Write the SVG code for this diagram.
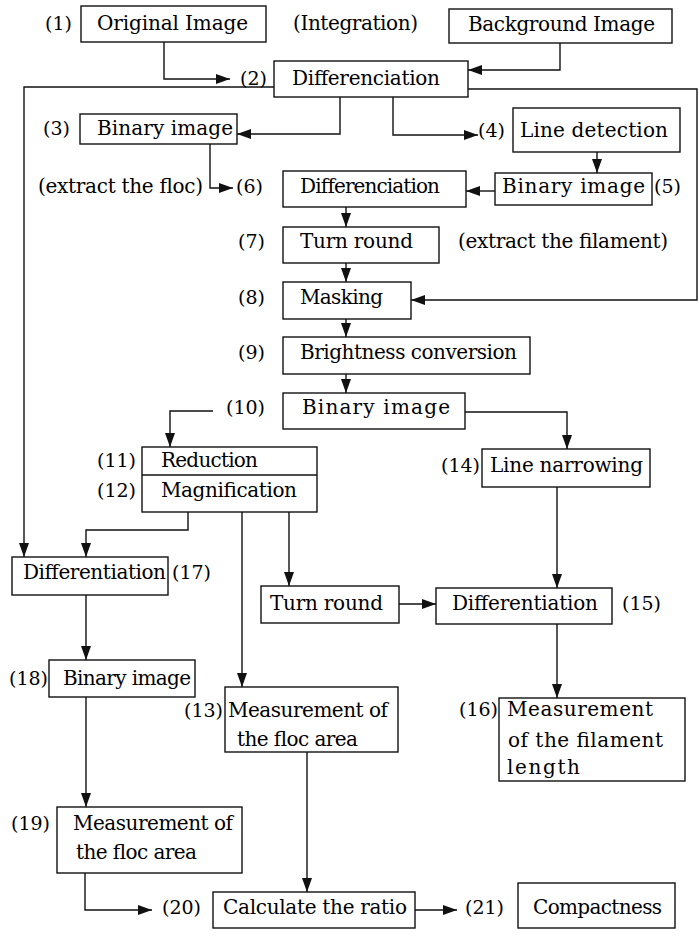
<svg xmlns="http://www.w3.org/2000/svg" width="699" height="937" viewBox="0 0 699 937">
<defs>
<style>
.b{fill:#fff;stroke:#111;stroke-width:1.4}
.t{font-family:"DejaVu Serif","Liberation Serif",serif;font-size:20px;fill:#000}
.l{font-family:"DejaVu Serif","Liberation Serif",serif;font-size:19px;fill:#000}
.e{text-anchor:end}
.c{fill:none;stroke:#111;stroke-width:1.4}
</style>
<marker id="ah" markerUnits="userSpaceOnUse" markerWidth="14" markerHeight="10" refX="14" refY="5" orient="auto">
<path d="M0,0 L14,5 L0,10 z" fill="#111"/>
</marker>
</defs>
<rect width="699" height="937" fill="#fff"/>
<g id="connectors">
<path class="c" d="M164,42 V79 H230" marker-end="url(#ah)"/>
<path class="c" d="M560,43 V70 H468" marker-end="url(#ah)"/>
<path class="c" d="M274,87 H24 V557" marker-end="url(#ah)"/>
<path class="c" d="M468,89 H697 V300 H411" marker-end="url(#ah)"/>
<path class="c" d="M340,97 V134 H237" marker-end="url(#ah)"/>
<path class="c" d="M393,97 V135 H478" marker-end="url(#ah)"/>
<path class="c" d="M597,152 V173" marker-end="url(#ah)"/>
<path class="c" d="M495,191 H466" marker-end="url(#ah)"/>
<path class="c" d="M210,144 V188 H233" marker-end="url(#ah)"/>
<path class="c" d="M346,207 V227" marker-end="url(#ah)"/>
<path class="c" d="M346,263 V282" marker-end="url(#ah)"/>
<path class="c" d="M346,319 V337" marker-end="url(#ah)"/>
<path class="c" d="M346,374 V393" marker-end="url(#ah)"/>
<path class="c" d="M213,411 H170 V447" marker-end="url(#ah)"/>
<path class="c" d="M465,412 H567 V449" marker-end="url(#ah)"/>
<path class="c" d="M188,512 V530 H86 V557" marker-end="url(#ah)"/>
<path class="c" d="M242,512 V687" marker-end="url(#ah)"/>
<path class="c" d="M289,512 V586" marker-end="url(#ah)"/>
<path class="c" d="M399,604 H436" marker-end="url(#ah)"/>
<path class="c" d="M557,487 V588" marker-end="url(#ah)"/>
<path class="c" d="M557,624 V698" marker-end="url(#ah)"/>
<path class="c" d="M86,595 V660" marker-end="url(#ah)"/>
<path class="c" d="M86,697 V807" marker-end="url(#ah)"/>
<path class="c" d="M307,752 V892" marker-end="url(#ah)"/>
<path class="c" d="M85,873 V910 H152" marker-end="url(#ah)"/>
<path class="c" d="M415,910 H457" marker-end="url(#ah)"/>
</g>
<g id="n1"><rect class="b" x="81" y="6" width="185" height="36"/><text class="l e" x="72" y="30">(1)</text><text class="t" x="97" y="30" textLength="151" lengthAdjust="spacing">Original Image</text></g>
<g id="integration"><text class="t" x="293" y="30" textLength="125" lengthAdjust="spacing">(Integration)</text></g>
<g id="bg"><rect class="b" x="449" y="9" width="223" height="34"/><text class="t" x="468" y="31" textLength="187" lengthAdjust="spacing">Background Image</text></g>
<g id="n2"><rect class="b" x="274" y="61" width="194" height="36"/><text class="l e" x="267" y="85">(2)</text><text class="t" x="292" y="85" textLength="148" lengthAdjust="spacing">Differenciation</text></g>
<g id="n3"><rect class="b" x="80" y="114" width="157" height="30"/><text class="l e" x="70" y="135">(3)</text><text class="t" x="97" y="135" textLength="136" lengthAdjust="spacing">Binary image</text></g>
<g id="n4"><rect class="b" x="513" y="108" width="167" height="44"/><text class="l e" x="505" y="137">(4)</text><text class="t" x="520" y="137" textLength="148" lengthAdjust="spacing">Line detection</text></g>
<g id="n6"><rect class="b" x="283" y="171" width="183" height="36"/><text class="t" x="38" y="193" textLength="165" lengthAdjust="spacing">(extract the floc)</text><text class="l e" x="263" y="193">(6)</text><text class="t" x="300" y="193" textLength="140" lengthAdjust="spacing">Differenciation</text></g>
<g id="n5"><rect class="b" x="495" y="173" width="157" height="32"/><text class="t" x="502" y="193" textLength="143" lengthAdjust="spacing">Binary image</text><text class="l" x="654" y="193">(5)</text></g>
<g id="n7"><rect class="b" x="283" y="227" width="156" height="36"/><text class="l e" x="265" y="248">(7)</text><text class="t" x="300" y="248" textLength="113" lengthAdjust="spacing">Turn round</text><text class="t" x="458" y="248" textLength="210" lengthAdjust="spacing">(extract the filament)</text></g>
<g id="n8"><rect class="b" x="283" y="282" width="128" height="37"/><text class="l e" x="265" y="304">(8)</text><text class="t" x="300" y="304" textLength="83" lengthAdjust="spacing">Masking</text></g>
<g id="n9"><rect class="b" x="283" y="337" width="247" height="37"/><text class="l e" x="265" y="359">(9)</text><text class="t" x="300" y="359" textLength="217" lengthAdjust="spacing">Brightness conversion</text></g>
<g id="n10"><rect class="b" x="283" y="393" width="182" height="36"/><text class="l e" x="265" y="414">(10)</text><text class="t" x="302" y="414" textLength="148" lengthAdjust="spacing">Binary image</text></g>
<g id="n11-12"><rect class="b" x="142" y="447" width="175" height="65"/><line class="c" x1="142" y1="475" x2="317" y2="475"/><text class="l e" x="136" y="467">(11)</text><text class="t" x="161" y="467" textLength="97" lengthAdjust="spacing">Reduction</text><text class="l e" x="136" y="497">(12)</text><text class="t" x="161" y="497" textLength="136" lengthAdjust="spacing">Magnification</text></g>
<g id="n14"><rect class="b" x="482" y="449" width="168" height="38"/><text class="l e" x="480" y="472">(14)</text><text class="t" x="490" y="472" textLength="153" lengthAdjust="spacing">Line narrowing</text></g>
<g id="n17"><rect class="b" x="12" y="557" width="156" height="38"/><text class="t" x="23" y="579" textLength="143" lengthAdjust="spacing">Differentiation</text><text class="l" x="172" y="579">(17)</text></g>
<g id="nturn2"><rect class="b" x="261" y="586" width="138" height="37"/><text class="t" x="270" y="610" textLength="113" lengthAdjust="spacing">Turn round</text></g>
<g id="n15"><rect class="b" x="436" y="588" width="176" height="36"/><text class="t" x="452" y="610" textLength="146" lengthAdjust="spacing">Differentiation</text><text class="l" x="622" y="610">(15)</text></g>
<g id="n18"><rect class="b" x="49" y="660" width="146" height="37"/><text class="l e" x="48" y="685">(18)</text><text class="t" x="63" y="685" textLength="128" lengthAdjust="spacing">Binary image</text></g>
<g id="n13"><rect class="b" x="225" y="687" width="173" height="65"/><text class="l e" x="223" y="717">(13)</text><text class="t" x="228" y="717" textLength="160" lengthAdjust="spacing">Measurement of</text><text class="t" x="237" y="746" textLength="121" lengthAdjust="spacing">the floc area</text></g>
<g id="n16"><rect class="b" x="499" y="698" width="186" height="83"/><text class="l e" x="498" y="716">(16)</text><text class="t" x="507" y="716" textLength="146" lengthAdjust="spacing">Measurement</text><text class="t" x="508" y="747" textLength="155" lengthAdjust="spacing">of the filament</text><text class="t" x="507" y="774" textLength="73" lengthAdjust="spacing">length</text></g>
<g id="n19"><rect class="b" x="57" y="807" width="185" height="66"/><text class="l e" x="50" y="830">(19)</text><text class="t" x="73" y="830" textLength="160" lengthAdjust="spacing">Measurement of</text><text class="t" x="76" y="859" textLength="121" lengthAdjust="spacing">the floc area</text></g>
<g id="n20"><rect class="b" x="213" y="892" width="202" height="36"/><text class="l" x="162" y="914">(20)</text><text class="t" x="223" y="914" textLength="184" lengthAdjust="spacing">Calculate the ratio</text></g>
<g id="n21"><rect class="b" x="518" y="883" width="157" height="45"/><text class="l" x="465" y="914">(21)</text><text class="t" x="533" y="914" textLength="129" lengthAdjust="spacing">Compactness</text></g>
</svg>
